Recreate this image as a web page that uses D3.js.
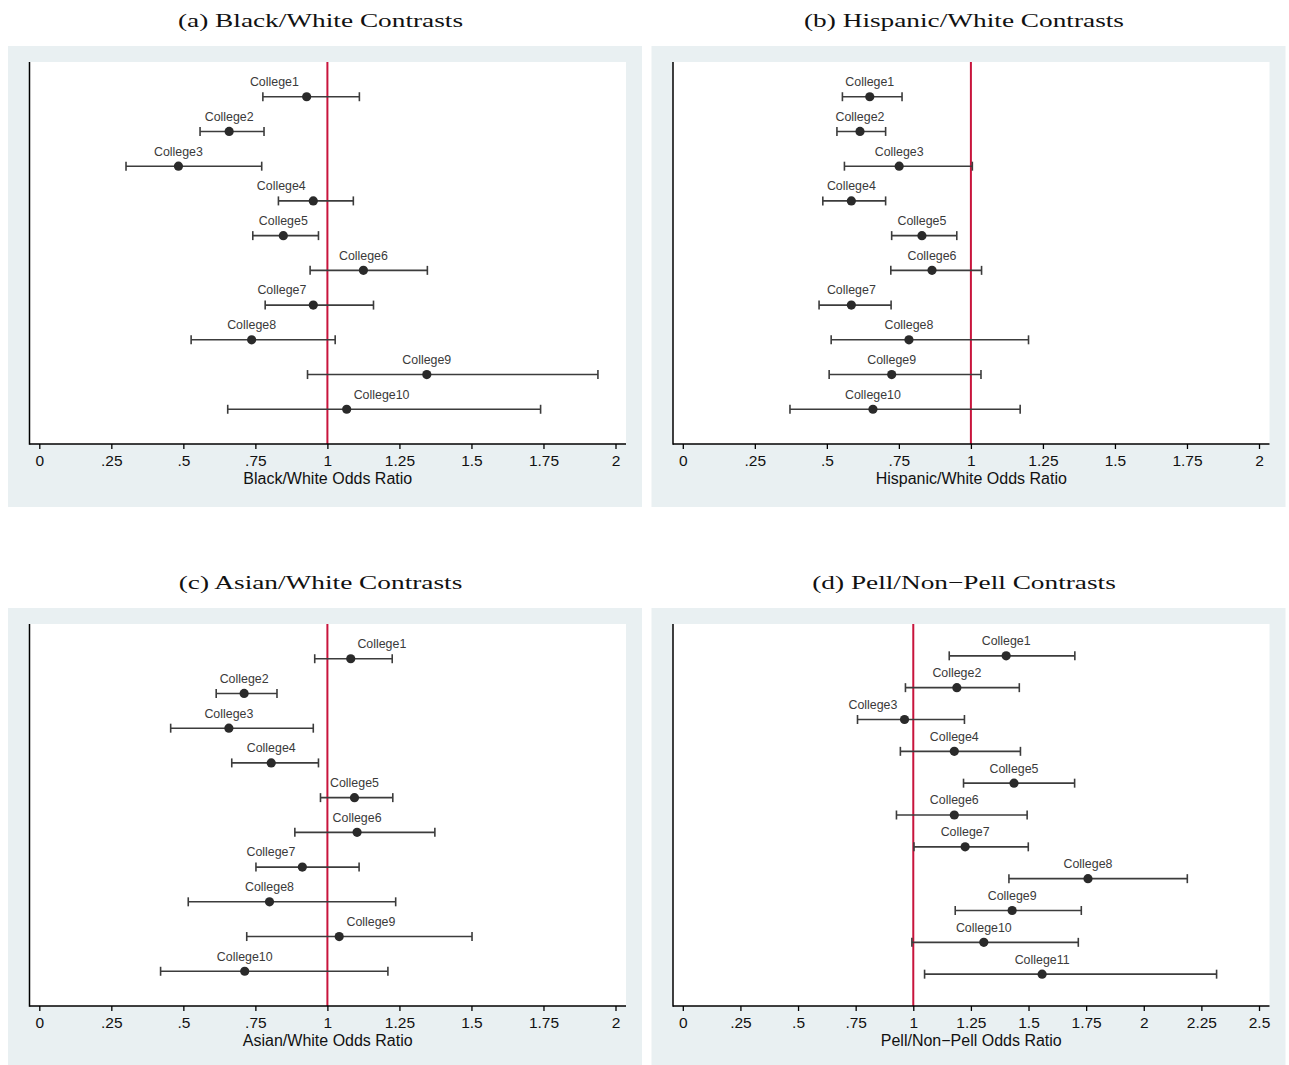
<!DOCTYPE html>
<html><head><meta charset="utf-8">
<script src="https://cdn.jsdelivr.net/npm/d3@7"></script>
<style>body{margin:0;background:#fff} svg{display:block}</style>
</head><body><svg id="chart" width="1289" height="1065"></svg>
<script>
// ---- data ----
const colleges = ["College1","College2","College3","College4","College5","College6","College7","College8","College9","College10","College11"];

const panelTitles = ["(a) Black/White Contrasts","(b) Hispanic/White Contrasts","(c) Asian/White Contrasts","(d) Pell/Non\u2212Pell Contrasts"];
const axisTitles = ["Black/White Odds Ratio","Hispanic/White Odds Ratio","Asian/White Odds Ratio","Pell/Non\u2212Pell Odds Ratio"];

const ticks2 = [0,0.25,0.5,0.75,1,1.25,1.5,1.75,2];
const tickLabels2 = ["0",".25",".5",".75","1","1.25","1.5","1.75","2"];
const ticks25 = [0,0.25,0.5,0.75,1,1.25,1.5,1.75,2,2.25,2.5];
const tickLabels25 = ["0",".25",".5",".75","1","1.25","1.5","1.75","2","2.25","2.5"];

const bwEst = [0.928,0.659,0.483,0.951,0.847,1.125,0.951,0.737,1.345,1.067];
const bwLo  = [0.776,0.558,0.301,0.830,0.741,0.940,0.784,0.527,0.931,0.654];
const bwHi  = [1.111,0.780,0.772,1.090,0.969,1.347,1.160,1.027,1.939,1.740];
const bwLabelAt = [0.816,0.659,0.483,0.840,0.847,1.125,0.842,0.737,1.345,1.188];

const hwEst = [0.649,0.615,0.751,0.585,0.830,0.865,0.585,0.785,0.725,0.660];
const hwLo  = [0.554,0.535,0.561,0.486,0.725,0.722,0.473,0.515,0.508,0.372];
const hwHi  = [0.761,0.704,1.005,0.704,0.951,1.037,0.723,1.200,1.035,1.171];
const hwLabelAt = [0.649,0.615,0.751,0.585,0.830,0.865,0.585,0.785,0.725,0.660];

const awEst = [1.081,0.711,0.658,0.805,1.094,1.103,0.913,0.799,1.041,0.713];
const awLo  = [0.956,0.614,0.456,0.668,0.976,0.887,0.752,0.517,0.720,0.421];
const awHi  = [1.225,0.825,0.951,0.969,1.227,1.373,1.110,1.237,1.502,1.210];
const awLabelAt = [1.189,0.711,0.658,0.805,1.094,1.103,0.804,0.799,1.151,0.713];

const pnEst = [1.403,1.189,0.962,1.178,1.437,1.178,1.225,1.758,1.429,1.306,1.559];
const pnLo  = [1.156,0.966,0.758,0.944,1.218,0.927,1.003,1.415,1.182,0.994,1.049];
const pnHi  = [1.701,1.460,1.222,1.465,1.700,1.494,1.499,2.189,1.729,1.716,2.316];
const pnLabelAt = [1.403,1.189,0.825,1.178,1.437,1.178,1.225,1.758,1.429,1.306,1.559];

const refValue = 1;

// ---- build ----
const panels = [
  {est:bwEst, lo:bwLo, hi:bwHi, lab:bwLabelAt, ticks:ticks2, tl:tickLabels2},
  {est:hwEst, lo:hwLo, hi:hwHi, lab:hwLabelAt, ticks:ticks2, tl:tickLabels2},
  {est:awEst, lo:awLo, hi:awHi, lab:awLabelAt, ticks:ticks2, tl:tickLabels2},
  {est:pnEst, lo:pnLo, hi:pnHi, lab:pnLabelAt, ticks:ticks25, tl:tickLabels25}
];

const svg = d3.select("#chart");
const SANS = "'Liberation Sans', Arial, Helvetica, sans-serif";
const SERIF = "'Liberation Serif', 'Times New Roman', serif";

panels.forEach((p, k) => {
  const dx = (k % 2) * 643.5, dy = Math.floor(k / 2) * 562;
  const g = svg.append("g").attr("transform", `translate(${dx},${dy})`);
  const L = 29.5, R = 626, T = 62, B = 444;
  const n = p.est.length;

  g.append("rect").attr("x", 8).attr("y", 46).attr("width", 634).attr("height", 461).attr("fill", "#e9f0f2");
  g.append("rect").attr("x", L).attr("y", T).attr("width", R - L).attr("height", B - T).attr("fill", "#ffffff");

  const x = d3.scaleLinear().domain([0, d3.max(p.ticks)]).range([39.3, 615.5]);
  const y = d3.scaleLinear().domain([0, n + 1]).range([T, B]);

  // reference line
  g.append("line").attr("x1", x(refValue)).attr("x2", x(refValue)).attr("y1", T).attr("y2", B)
    .attr("stroke", "#c8143c").attr("stroke-width", 2);

  // axes
  g.append("line").attr("x1", L).attr("x2", L).attr("y1", T).attr("y2", B + 0.75).attr("stroke", "#000").attr("stroke-width", 1.5);
  const ax = g.append("g").attr("transform", `translate(0,${B})`)
    .call(d3.axisBottom(x).tickValues(p.ticks).tickFormat((d, i) => p.tl[i]).tickSize(5).tickPadding(6));
  ax.select(".domain").remove();
  ax.selectAll(".tick line").attr("stroke", "#000").attr("stroke-width", 1.3);
  ax.selectAll(".tick text").attr("font-family", SANS).attr("font-size", 15.5).attr("fill", "#111");
  g.append("line").attr("x1", L).attr("x2", R).attr("y1", B).attr("y2", B).attr("stroke", "#000").attr("stroke-width", 1.5);

  g.append("text").attr("x", (L + R) / 2).attr("y", 483.5).attr("text-anchor", "middle")
    .attr("font-family", SANS).attr("font-size", 16).attr("fill", "#111").text(axisTitles[k]);

  // error bars
  const rows = d3.range(n);
  const eg = g.append("g").attr("stroke", "#3c3c3c").attr("stroke-width", 1.6);
  eg.selectAll(".bar").data(rows).join("line")
    .attr("x1", i => x(p.lo[i])).attr("x2", i => x(p.hi[i]))
    .attr("y1", i => y(i + 1)).attr("y2", i => y(i + 1));
  eg.selectAll(".capl").data(rows).join("line").attr("class", "capl")
    .attr("x1", i => x(p.lo[i])).attr("x2", i => x(p.lo[i]))
    .attr("y1", i => y(i + 1) - 4.5).attr("y2", i => y(i + 1) + 4.5);
  eg.selectAll(".caph").data(rows).join("line").attr("class", "caph")
    .attr("x1", i => x(p.hi[i])).attr("x2", i => x(p.hi[i]))
    .attr("y1", i => y(i + 1) - 4.5).attr("y2", i => y(i + 1) + 4.5);

  g.selectAll(".pt").data(rows).join("circle").attr("class", "pt")
    .attr("cx", i => x(p.est[i])).attr("cy", i => y(i + 1)).attr("r", 4.6).attr("fill", "#2a2a2a");

  g.selectAll(".lbl").data(rows).join("text").attr("class", "lbl")
    .attr("x", i => x(p.lab[i])).attr("y", i => y(i + 1) - 10.6).attr("text-anchor", "middle")
    .attr("font-family", SANS).attr("font-size", 12.4).attr("fill", "#3a3a3a")
    .text(i => colleges[i]);

  // panel title
  const t = g.append("text").attr("x", 320.5).attr("y", 26.5).attr("text-anchor", "middle")
    .attr("font-family", SERIF).attr("font-size", 19.5).attr("fill", "#111").text(panelTitles[k]);
  const w = t.node().getComputedTextLength();
  t.attr("textLength", w * 1.4).attr("lengthAdjust", "spacingAndGlyphs");
});
</script></body></html>
